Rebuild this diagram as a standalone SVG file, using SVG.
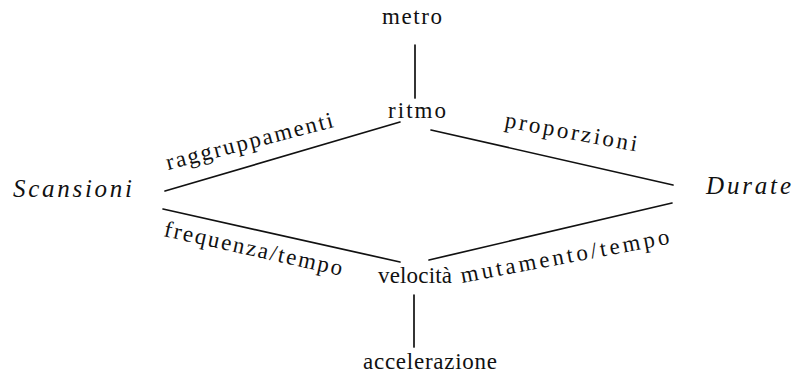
<svg xmlns="http://www.w3.org/2000/svg" width="794" height="379" viewBox="0 0 794 379">
  <style>
    .t { font-family: "Liberation Serif", "DejaVu Serif", serif; font-size: 23px; fill: #111; }
    .it { font-style: italic; font-size: 25px; }
    .ln { stroke: #111; stroke-width: 1.7; fill: none; stroke-linecap: round; }
  </style>
  <rect width="794" height="379" fill="#fff"/>

  <!-- connectors -->
  <g id="connectors">
    <line class="ln" x1="415" y1="45" x2="415" y2="98"/>
    <line class="ln" x1="165" y1="191" x2="400" y2="122"/>
    <line class="ln" x1="431" y1="130" x2="673" y2="185"/>
    <line class="ln" x1="163" y1="209" x2="400" y2="262"/>
    <line class="ln" x1="429" y1="260" x2="672" y2="203"/>
    <line class="ln" x1="414" y1="295" x2="414" y2="347"/>
  </g>

  <!-- edge labels -->
  <g id="edge-labels">
    <text class="t" transform="translate(168,170) rotate(-14.5)" textLength="172" lengthAdjust="spacing">raggruppamenti</text>
    <text class="t" transform="translate(504,127) rotate(10.5)" textLength="134" lengthAdjust="spacing">proporzioni</text>
    <text class="t" transform="translate(163,236) rotate(12.6)" textLength="182" lengthAdjust="spacing">frequenza/tempo</text>
    <text class="t" transform="translate(462,283) rotate(-10.7)" textLength="212" lengthAdjust="spacing">mutamento/tempo</text>
  </g>

  <!-- nodes -->
  <g id="metro"><text class="t" x="382" y="24" textLength="60" lengthAdjust="spacing">metro</text></g>
  <g id="ritmo"><text class="t" x="388" y="118" textLength="58" lengthAdjust="spacing">ritmo</text></g>
  <g id="scansioni"><text class="t it" x="13" y="197" textLength="119" lengthAdjust="spacing">Scansioni</text></g>
  <g id="durate"><text class="t it" x="706" y="194" textLength="85" lengthAdjust="spacing">Durate</text></g>
  <g id="velocita"><text class="t" x="378" y="283" textLength="74" lengthAdjust="spacing">velocità</text></g>
  <g id="accelerazione"><text class="t" x="363" y="369" textLength="134" lengthAdjust="spacing">accelerazione</text></g>
</svg>
